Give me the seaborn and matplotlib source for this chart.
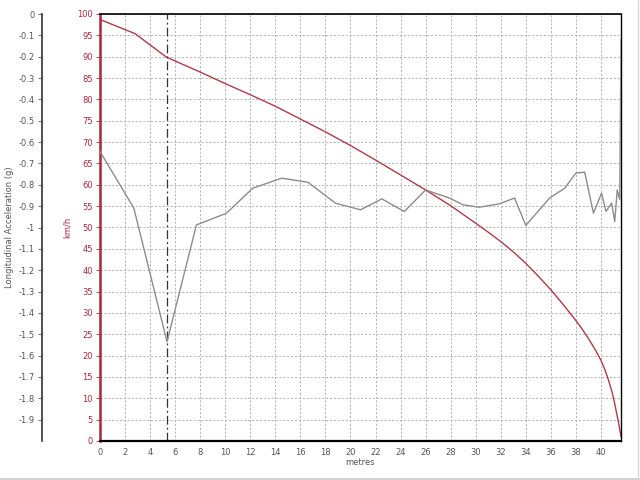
import matplotlib
matplotlib.use("Agg")
import matplotlib.pyplot as plt
from matplotlib.lines import Line2D
import seaborn as sns

# ---- data ----
dist_speed = [0, 2.8, 5.3, 8, 10, 12, 14, 16, 18, 20, 22, 24, 26, 28, 30, 31, 32, 33, 34, 35, 36, 37, 38,
              38.5, 39, 39.5, 40, 40.3, 40.6, 40.9, 41.1, 41.3, 41.45, 41.6]
speed_kmh = [98.7, 95.4, 89.9, 86.4, 83.7, 81.1, 78.4, 75.4, 72.4, 69.2, 65.8, 62.3, 58.8, 55.1, 51.0, 48.9,
             46.7, 44.3, 41.6, 38.6, 35.4, 31.9, 28.2, 26.2, 24.0, 21.6, 18.9, 16.8, 14.3, 11.3, 8.7, 5.8, 3.6, 1.0]

dist_acc = [0, 2.7, 5.35, 7.7, 10.1, 12.2, 14.5, 16.6, 18.8, 20.8, 22.5, 24.3, 26.0, 27.9, 29.0,
            30.3, 31.9, 33.1, 34.0, 35.9, 37.1, 38.0, 38.7, 39.4, 40.05, 40.4, 40.85, 41.1, 41.3, 41.5, 41.6]
long_acc = [-0.644, -0.909, -1.535, -0.988, -0.933, -0.816, -0.769, -0.788, -0.886, -0.917, -0.866,
            -0.925, -0.824, -0.862, -0.894, -0.905, -0.889, -0.862, -0.99, -0.862, -0.816, -0.745,
            -0.741, -0.933, -0.839, -0.925, -0.886, -0.972, -0.824, -0.870, -0.12]

marker_dist = 5.32
x_ticks = list(range(0, 41, 2))
speed_ticks = list(range(0, 101, 5))
acc_ticks = [round(-0.1 * i, 1) for i in range(0, 20)]

# ---- style ----
sns.set_style("white")
plt.rcParams['font.family'] = ['DejaVu Sans']

RED = "#a8283a"
LINE_RED = "#b03a48"
GRAY = "#8c8c8c"
TXT = "#555555"

fig = plt.figure(figsize=(6.4, 4.8), dpi=100)
W, H = 640, 480
ax = fig.add_axes([100 / W, (H - 441) / H, 521 / W, 427 / H])

ax.set_xlim(0, 41.6)
ax.set_ylim(0, 100)

# grid
ax.set_xticks(x_ticks)
ax.set_yticks(speed_ticks)
ax.grid(True, color="#b4b4b4", linestyle=(0, (2.2, 1.8)), linewidth=0.7)
ax.set_axisbelow(True)

# speed line
sns.lineplot(x=dist_speed, y=speed_kmh, ax=ax, color=LINE_RED, linewidth=1.0)

# vertical dash-dot marker
ax.axvline(marker_dist, color="#333333", linewidth=0.9, linestyle=(0, (7, 2.5, 1.5, 2.5)))

# spines
for s in ["top", "right", "bottom"]:
    ax.spines[s].set_color("black")
ax.spines["top"].set_linewidth(1.2)
ax.spines["right"].set_linewidth(1.0)
ax.spines["bottom"].set_linewidth(1.6)
ax.spines["left"].set_color(RED)
ax.spines["left"].set_linewidth(1.8)

ax.tick_params(axis="x", direction="out", length=3, width=0.6, labelsize=6, colors=TXT, pad=2)
ax.tick_params(axis="y", direction="out", length=3, width=0.6, labelsize=6, colors=RED, pad=2)
ax.set_xticklabels([str(t) for t in x_ticks])
ax.set_yticklabels([str(t) for t in speed_ticks])
ax.set_xlabel("metres", fontsize=6, color=TXT, labelpad=1)
ax.set_ylabel("km/h", fontsize=6, color=RED, labelpad=4)

# acceleration axis
ax2 = ax.twinx()
ax2.set_ylim(-2.0, 0)
sns.lineplot(x=dist_acc, y=long_acc, ax=ax2, color=GRAY, linewidth=1.0)
ax2.set_xlim(0, 41.6)
ax2.spines["left"].set_visible(True)
ax2.spines["left"].set_position(("outward", 42))
ax2.spines["left"].set_color("#333333")
ax2.spines["left"].set_linewidth(1.2)
for s in ["top", "right", "bottom"]:
    ax2.spines[s].set_visible(False)
ax2.yaxis.set_ticks_position("left")
ax2.yaxis.set_label_position("left")
ax2.set_yticks(acc_ticks)
ax2.set_yticklabels(["0" if v == 0 else f"{v:g}" for v in acc_ticks])
ax2.tick_params(axis="y", direction="out", length=3, width=0.6, labelsize=6, colors=TXT, pad=2)
ax2.set_ylabel("Longitudinal Acceleration (g)", fontsize=6, color=TXT, labelpad=3)
ax2.grid(False)

# light frame lines of the window
fig.add_artist(Line2D([0, 1], [1.5 / H, 1.5 / H], transform=fig.transFigure, color="#c8c8c8", linewidth=1.2))
fig.add_artist(Line2D([638 / W, 638 / W], [0, 1], transform=fig.transFigure, color="#d8d8d8", linewidth=1.0))

fig.savefig("out.png", dpi=100)
